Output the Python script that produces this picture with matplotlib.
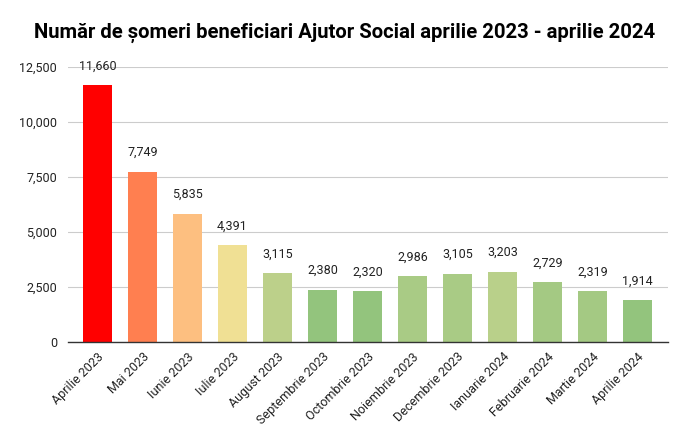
import numpy as np
import matplotlib.pyplot as plt

luni = ['Aprilie 2023', 'Mai 2023', 'Iunie 2023', 'Iulie 2023', 'August 2023',
        'Septembrie 2023', 'Octombrie 2023', 'Noiembrie 2023', 'Decembrie 2023',
        'Ianuarie 2024', 'Februarie 2024', 'Martie 2024', 'Aprilie 2024']
someri = [11660, 7749, 5835, 4391, 3115, 2380, 2320, 2986, 3105, 3203, 2729, 2319, 1914]
culori = ['#ff0000', '#ff7f50', '#fdbf80', '#f0e094', '#bcd08a', '#93c47d', '#93c47d',
          '#a9cb85', '#a9cb85', '#b9d08a', '#a4c983', '#a4c983', '#93c47d']
y_ticks = [0, 2500, 5000, 7500, 10000, 12500]

plt.rcParams['font.family'] = ['Roboto', 'DejaVu Sans']

fig = plt.figure(figsize=(6.9, 4.42), dpi=100, facecolor='white')
ax = fig.add_axes([68/690, 100/442, 600/690, 275/442])

x = np.arange(len(luni))
ax.bar(x, someri, width=0.644, color=culori, zorder=3)

# etichete deasupra barelor
for xi, v in zip(x, someri):
    ax.annotate(f'{v:,}', (xi, v), xytext=(0, 9), textcoords='offset points',
                ha='center', va='bottom', fontsize=9, color='#222222', zorder=4)

ax.set_xlim(-0.656, 12.68)
ax.set_ylim(0, 12500)
ax.set_yticks(y_ticks)
ax.set_yticklabels([f'{t:,}' for t in y_ticks], fontsize=9, color='#222222')
ax.set_xticks(x)
ax.set_xticklabels(luni, rotation=45, ha='right', rotation_mode='anchor',
                   fontsize=9, color='#222222')
ax.tick_params(axis='both', length=0)
ax.tick_params(axis='y', pad=8)
ax.tick_params(axis='x', pad=6)

ax.grid(axis='y', color='#cccccc', linewidth=0.8, zorder=0)
for s in ['top', 'right', 'left']:
    ax.spines[s].set_visible(False)
ax.spines['bottom'].set_color('#333333')
ax.spines['bottom'].set_linewidth(1.0)
ax.spines['bottom'].set_zorder(5)

fig.text(0.5, 1 - 33/442, 'Număr de șomeri beneficiari Ajutor Social aprilie 2023 - aprilie 2024',
         ha='center', va='center', fontsize=14.6, fontweight='bold', color='black')

fig.savefig('out.png', dpi=100, facecolor='white')
